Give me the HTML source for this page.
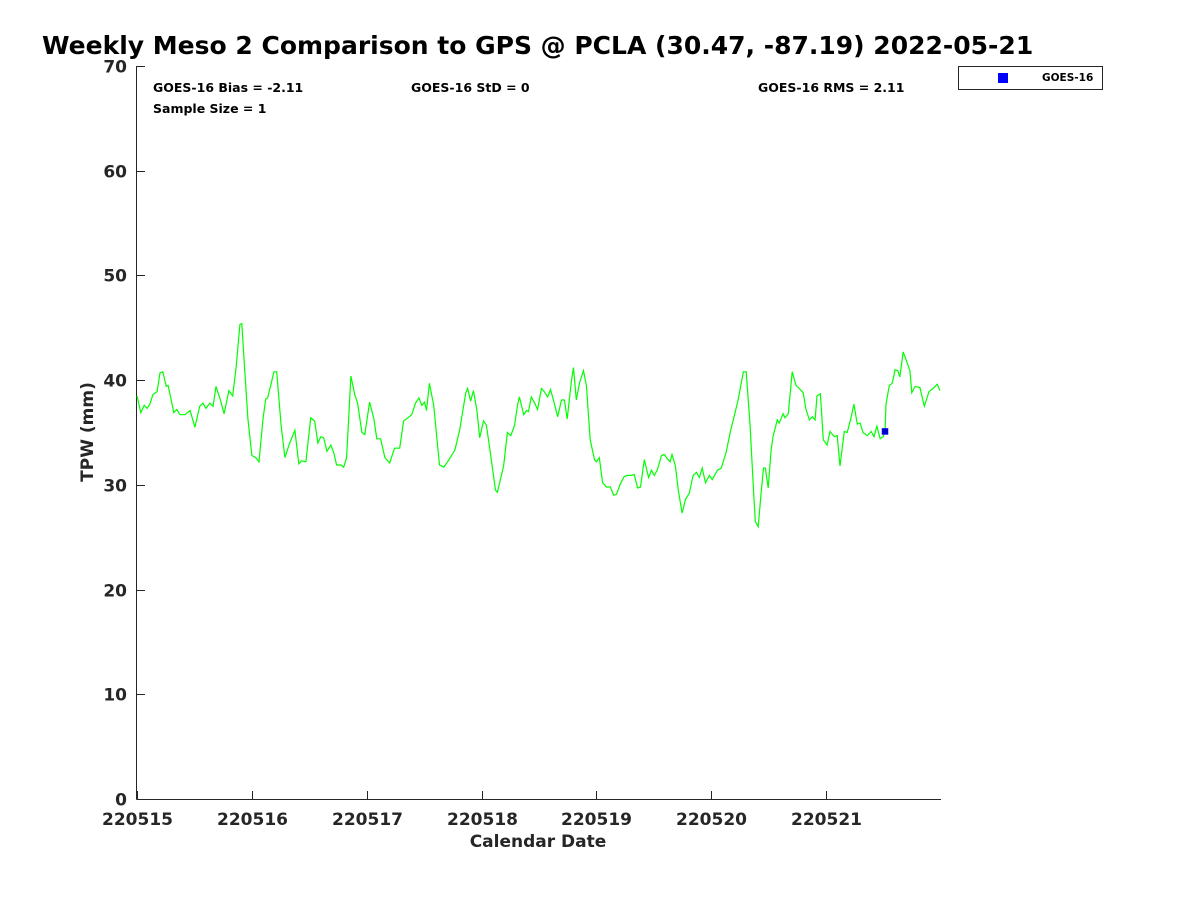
<!DOCTYPE html>
<html><head><meta charset="utf-8"><style>
body{margin:0;background:#fff;}
svg text{font-family:"DejaVu Sans","Liberation Sans",sans-serif;font-weight:bold;fill:#262626;}
</style></head><body>
<svg id="chart" width="1200" height="900" viewBox="0 0 1200 900" xmlns="http://www.w3.org/2000/svg">
<rect width="1200" height="900" fill="#fff"/>
<text x="42" y="54" font-size="25" style="fill:#000">Weekly Meso 2 Comparison to GPS @ PCLA (30.47, -87.19) 2022-05-21</text>
<g id="axes"></g>
<g id="series"></g>
<text x="153" y="92" font-size="12.5" style="fill:#000">GOES-16 Bias = -2.11</text>
<text x="411" y="92" font-size="12.5" style="fill:#000">GOES-16 StD = 0</text>
<text x="758" y="92" font-size="12.5" style="fill:#000">GOES-16 RMS = 2.11</text>
<text x="153" y="113" font-size="12.5" style="fill:#000">Sample Size = 1</text>
<g>
<rect x="958.5" y="66.5" width="144" height="23" fill="#fff" stroke="#262626" stroke-width="1"/>
<rect x="998" y="73" width="10" height="10" fill="#0000ff"/>
<text x="1042" y="81" font-size="10.5" style="fill:#000">GOES-16</text>
</g>
<text x="538" y="847" font-size="17" text-anchor="middle">Calendar Date</text>
<text transform="translate(93,432) rotate(-90)" font-size="17" text-anchor="middle">TPW (mm)</text>
</svg>
<script>
const hours=[0,0.8,1.5,2.1,2.7,3.3,4.2,4.8,5.4,6.1,6.5,7.1,7.7,8.3,9.0,10.0,11.1,12.1,13.1,13.8,14.4,15.2,15.9,16.5,17.3,18.2,19.2,20.0,20.7,21.5,21.9,22.5,23.2,24.0,24.8,25.5,26.3,26.9,27.3,28.0,28.6,29.2,30.1,30.9,31.9,33.0,33.8,34.4,35.3,36.3,37.1,37.8,38.4,39.0,39.7,40.5,41.1,41.7,42.6,43.2,43.8,44.7,45.5,46.1,47.0,47.6,48.6,49.5,50.1,50.9,51.8,52.8,53.8,54.9,55.7,56.6,57.4,58.2,58.9,59.5,60.1,60.5,61.1,62.0,63.2,64.1,64.9,66.4,67.4,68.7,69.1,69.7,70.3,71.0,71.6,72.4,73.0,73.7,74.9,75.3,76.6,77.4,78.1,78.9,79.5,79.9,80.8,81.4,81.8,82.4,83.1,83.7,84.5,85.1,85.8,86.4,87.2,87.9,88.7,89.3,89.9,90.8,91.2,91.8,92.5,93.3,93.9,94.7,95.6,96.0,96.6,97.3,98.1,98.9,99.6,100.2,101.0,101.8,102.5,103.3,103.9,104.6,105.2,106.0,106.9,107.5,108.1,108.7,109.6,110.2,110.8,111.4,111.8,112.5,113.1,113.9,114.6,115.4,116.2,116.9,117.5,118.1,118.8,119.6,120.2,121.3,122.1,123.1,124.0,124.6,125.6,126.7,127.3,128.1,128.8,129.2,129.8,130.4,130.9,131.3,131.9,132.5,132.9,133.8,134.2,135.0,135.4,136.1,136.9,137.7,138.4,139.2,139.8,140.5,141.1,141.7,142.1,142.8,143.4,144.2,144.8,145.7,146.3,146.9,147.8,148.4,149.2,149.8,150.5,151.1,151.7,152.6,153.4,154.0,154.6,155.3,155.9,156.3,156.5,157.2,157.8,158.4,159.0,159.4,160.1,160.9,161.5,161.9,162.6,163.6,164.5,165.5,166.3,167.2,167.8];
const gpsTPW=[38.5,36.9,37.6,37.3,37.7,38.6,38.9,40.7,40.8,39.4,39.5,38.2,36.9,37.2,36.7,36.7,37.1,35.5,37.5,37.8,37.3,37.8,37.5,39.4,38.3,36.8,39.0,38.5,41.2,45.3,45.4,41.0,36.2,32.8,32.6,32.2,36.2,38.2,38.3,39.6,40.8,40.8,35.7,32.6,34.0,35.2,32.0,32.3,32.2,36.4,36.1,34.0,34.6,34.5,33.2,33.8,33.1,31.9,31.9,31.7,32.6,40.4,38.6,37.8,35.0,34.8,37.9,36.3,34.4,34.4,32.6,32.1,33.5,33.5,36.1,36.4,36.7,37.8,38.3,37.6,37.9,37.1,39.7,37.6,31.9,31.7,32.2,33.3,35.2,38.8,39.2,38.0,39.0,37.2,34.5,36.1,35.7,33.5,29.5,29.3,31.8,35.0,34.7,35.7,37.6,38.4,36.7,37.1,37.0,38.4,37.8,37.2,39.2,38.9,38.4,39.1,37.8,36.5,38.1,38.1,36.3,40.0,41.2,38.1,39.8,40.9,39.5,34.3,32.4,32.2,32.6,30.2,29.8,29.8,29.0,29.1,30.1,30.8,30.9,30.9,31.0,29.7,29.8,32.4,30.7,31.4,30.9,31.4,32.8,32.9,32.5,32.2,32.9,31.8,29.5,27.3,28.6,29.2,30.9,31.2,30.7,31.6,30.2,30.9,30.5,31.4,31.6,33.1,35.1,36.2,38.1,40.8,40.8,35.8,29.7,26.5,26.0,29.2,31.6,31.6,29.7,33.3,34.6,36.2,35.9,36.8,36.4,36.8,40.8,39.5,39.2,38.8,37.2,36.2,36.5,36.2,38.5,38.7,34.3,33.8,35.1,34.6,34.7,31.8,35.1,35.0,36.4,37.7,35.8,35.9,35.0,34.7,35.1,34.6,35.6,34.4,34.6,35.1,37.7,39.5,39.7,41.0,40.9,40.3,42.7,41.7,40.9,38.8,39.4,39.3,37.5,38.9,39.2,39.6,39.0];
const goesHours=[156.3];
const goesTPW=[35.1];
const yTicks=[0,10,20,30,40,50,60,70];
const xTickHours=[0,24,48,72,96,120,144];
const xTickLabels=["220515","220516","220517","220518","220519","220520","220521"];

const NS="http://www.w3.org/2000/svg";
const X0=137,X1=941,Y0=799,Y1=66;
const sx=h=>X0+h*(X1-X0)/168;
const sy=v=>Y0-v*(Y0-Y1)/70;
function mk(tag,attrs,parent){const e=document.createElementNS(NS,tag);for(const k in attrs)e.setAttribute(k,attrs[k]);parent.appendChild(e);return e;}
const axes=document.getElementById('axes'), series=document.getElementById('series');
let a=mk('line',{x1:136.5,y1:Y1,x2:136.5,y2:Y0+0.5,stroke:'#262626','stroke-width':1},axes);


a=mk('line',{x1:136.5,y1:Y0+0.5,x2:X1,y2:Y0+0.5,stroke:'#262626','stroke-width':1},axes);


yTicks.forEach(v=>{
  const y=Math.round(sy(v))+0.5;
  const t=mk('line',{x1:137,y1:y,x2:145,y2:y,stroke:'#262626'},axes);
  
  
  const l=mk('text',{x:127,y:y+6,'font-size':17,'text-anchor':'end'},axes);
  l.textContent=v;
  
  
});
xTickHours.forEach((h,i)=>{
  const x=Math.round(sx(h))+0.5;
  const t=mk('line',{x1:x,y1:Y0,x2:x,y2:Y0-8,stroke:'#262626'},axes);
  
  
  const l=mk('text',{x:x,y:825,'font-size':17,'text-anchor':'middle'},axes);
  l.textContent=xTickLabels[i];
  
  
});
const pts=hours.map((h,i)=>sx(h).toFixed(1)+','+sy(gpsTPW[i]).toFixed(1)).join(' ');
const pl=mk('polyline',{points:pts,fill:'none',stroke:'#00ff00','stroke-width':1.2},series);


goesHours.forEach((h,i)=>{
  const r=mk('rect',{x:sx(h)-3,y:sy(goesTPW[i])-3,width:6,height:6,fill:'#0000cc',stroke:'#0000ff','stroke-width':0.5},series);
  
  
});
</script>
</body></html>
